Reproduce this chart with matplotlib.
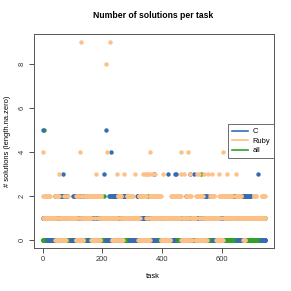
import matplotlib
matplotlib.use("Agg")
import matplotlib.pyplot as plt
from matplotlib.lines import Line2D

# number of solutions per task, one digit per task (task 1..745)
c_rows = [
    "1151111111" "1111100000" "0000000000" "0000000000" "1101011010",
    "1011022222" "2222222322" "2221222122" "2211111111" "1111000000",
    "0020202020" "2121221212" "1212121212" "2121211111" "1121111211",
    "0000000000" "1101101011" "1011010110" "1101101101" "1101111111",
    "1111311111" "5000000000" "0020202040" "2120212021" "2020202020",
    "0101001000" "0010022222" "2221212121" "1111111111" "0000000000",
    "0000000000" "0000002222" "2212122121" "1101010110" "1011010101",
    "1101101010" "0000000000" "0030000000" "1111111111" "1111101011",
    "1011010110" "0101101013" "1011010100" "0000000000" "1131111311",
    "1111111111" "1011010110" "1010110102" "1101101010" "1101311010",
    "1111131111" "1011010101" "1101010101" "1010110101" "2222222210",
    "1111111211" "1111111111" "0000000000" "1011010110" "1101101011",
    "1101111111" "1111111111" "1111111111" "1111222222" "2222222211",
    "0000000000" "0000002020" "2222222222" "2121212121" "2121212111",
    "1111111111" "1111111113" "1111111111" "0000000000" "00000",
]
ruby_rows = [
    "2142112112" "1211211212" "1121121111" "1111111111" "0121020120",
    "2012301010" "0101010101" "0120101201" "1111211111" "1111111111",
    "1111111111" "0201020102" "0204019021" "0120102111" "1211121112",
    "1111122121" "2021020202" "0202120203" "2021202012" "0202121111",
    "1111111111" "8111141111" "1111119111" "0101010101" "1011011301",
    "2021202120" "0212010101" "1311111111" "2121212121" "2121211212",
    "2121111113" "1111111111" "0202012020" "2020203020" "0203201030",
    "0301030402" "1212132121" "2121213121" "2121212121" "2121201010",
    "0130101010" "1010101010" "0101011012" "1212121212" "1212121212",
    "2121212121" "2304201010" "0101301010" "2012014021" "0232010201",
    "1111111111" "0201020320" "2013020102" "0201020103" "0101010101",
    "1131111111" "1212123121" "2121211111" "0101010101" "2302010202",
    "0204212121" "2121212321" "2121212121" "2121211111" "1111212132",
    "2121212121" "2121211111" "0101010101" "1111111111" "1111111111",
    "1111112121" "2121211111" "1111111111" "1112121212" "12121",
]
all_rows = [
    "0000500000" "0000011010" "1010100110" "0110101001" "1210110101",
    "0101101001" "1010010110" "0101100101" "0000000000" "0000010101",
    "1011001010" "1010100101" "1001101010" "0101010000" "0000000000",
    "1101010110" "0110010100" "1100101001" "0010110010" "1010000000",
    "0000020000" "0101101010" "1010010101" "0110101010" "1101010101",
    "1010110101" "1101101010" "0000000000" "0000000000" "1011010110",
    "0110101011" "1010110101" "1010101101" "0110101001" "1101011010",
    "1021010101" "1101011001" "0101101010" "0000000000" "0000010101",
    "1100101001" "1010010110" "0110101001" "1010110101" "0000000000",
    "0000000000" "0110101001" "1101001101" "0110110101" "1010101101",
    "0000000000" "1101101010" "0110101013" "1101001010" "1010100101",
    "0000000000" "0000000000" "1010110101" "1100110011" "0110010100",
    "1010000000" "0000000000" "0000000000" "0000000000" "0000000000",
    "1010110101" "0110101010" "1010101011" "0000000000" "0000000000",
    "0000000000" "0000000000" "0000000000" "1101011010" "10101",
]

c_vals = [int(ch) for ch in "".join(c_rows)]
ruby_vals = [int(ch) for ch in "".join(ruby_rows)]
all_vals = [int(ch) for ch in "".join(all_rows)]
tasks = list(range(1, len(c_vals) + 1))

labels = ["C", "Ruby", "all"]
colors = ["#386CB0", "#FDC086", "#33A02C"]

plt.rcParams['font.family'] = ['Liberation Sans', 'DejaVu Sans']

fig = plt.figure(figsize=(2.91, 2.91), dpi=100)
ax = fig.add_axes([34 / 291, 1 - 248 / 291, 240 / 291, 214 / 291])

# draw order: all, C, Ruby on top
ax.plot(tasks, all_vals, 'o', color=colors[2], ms=3.2, mew=0)
ax.plot(tasks, c_vals, 'o', color=colors[0], ms=3.2, mew=0)
ax.plot(tasks, ruby_vals, 'o', color=colors[1], ms=3.2, mew=0)

n = len(tasks)
pad = (n - 1) * 0.04
ax.set_xlim(1 - pad, n + pad)
ax.set_ylim(-0.36, 9.36)

ax.set_xticks([0, 200, 400, 600])
ax.set_yticks([0, 2, 4, 6, 8])
ax.tick_params(direction='out', length=3.5, width=0.6, colors='#333333',
               labelsize=5.4, pad=2.5)
for lab in ax.get_yticklabels():
    lab.set_rotation(90)
    lab.set_va('center')

for sp in ax.spines.values():
    sp.set_color('#555555')
    sp.set_linewidth(0.7)

fig.text(153 / 291, 1 - 15 / 291, "Number of solutions per task",
         ha='center', va='center', fontsize=6.2, fontweight='bold')
fig.text(153 / 291, 1 - 277 / 291, "task", ha='center', va='center', fontsize=5.4)
fig.text(8 / 291, 1 - 141 / 291, "# solutions (length.na.zero)", ha='center',
         va='center', rotation=90, fontsize=5.4)

handles = [Line2D([0], [0], color=col, lw=1.2) for col in colors]
leg = ax.legend(handles, labels, loc='center right', bbox_to_anchor=(1.0, 0.5),
                fontsize=5.4, handlelength=2.2, handletextpad=0.6,
                borderpad=0.5, labelspacing=0.3, fancybox=False,
                framealpha=1, edgecolor='#555555', borderaxespad=0)
leg.get_frame().set_linewidth(0.6)

fig.savefig("out.png", dpi=100)
